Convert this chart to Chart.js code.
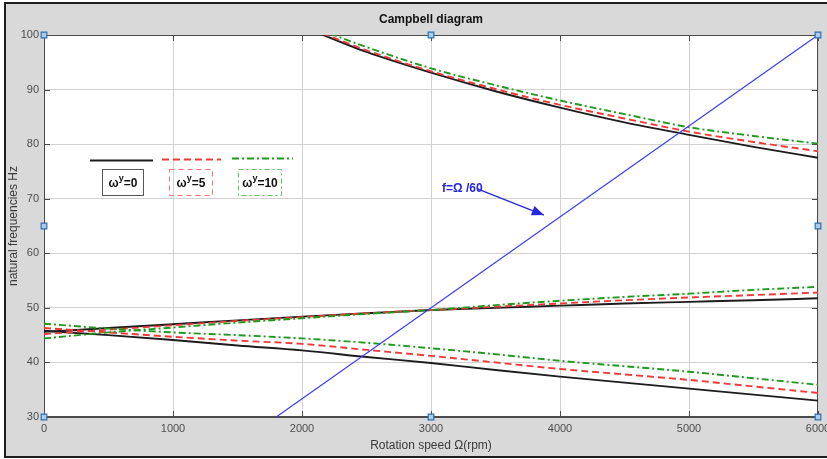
<!DOCTYPE html>
<html>
<head>
<meta charset="utf-8">
<script src="https://cdn.jsdelivr.net/npm/chart.js@4/dist/chart.umd.min.js"></script>
<style>
  html, body { margin: 0; padding: 0; background: #fff; overflow: hidden; }
  #wrap { width: 827px; height: 459px; }
</style>
</head>
<body>
<div id="wrap"><canvas id="c" width="827" height="459"></canvas></div>
<script>
// Rotation speeds (rpm) at which the modes were sampled
const rpm = [0, 500, 1000, 1500, 2000, 2500, 3000, 3500, 4000, 4500, 5000, 5500, 6000];
const rpmHigh = [2000, 2500, 3000, 3500, 4000, 4500, 5000, 5500, 6000];

// Natural frequencies (Hz), ω^y = 0
const w0Falling = [45.8, 45.0, 44.1, 43.1, 42.2, 41.0, 39.9, 38.6, 37.4, 36.3, 35.2, 34.1, 33.0];
const w0Rising  = [45.6, 46.3, 47.0, 47.7, 48.4, 49.0, 49.6, 50.0, 50.4, 50.8, 51.1, 51.4, 51.75];
const w0High    = [101.6, 96.9, 93.1, 89.7, 86.7, 84.0, 81.7, 79.5, 77.5];

// ω^y = 5
const w5Falling = [46.3, 45.5, 44.7, 44.0, 43.4, 42.3, 41.2, 40.0, 38.8, 37.8, 36.8, 35.6, 34.4];
const w5Rising  = [45.2, 46.0, 46.8, 47.6, 48.3, 49.0, 49.6, 50.2, 50.8, 51.4, 51.9, 52.35, 52.8];
const w5High    = [101.8, 97.2, 93.35, 90.1, 87.2, 84.7, 82.3, 80.4, 78.7];

// ω^y = 10
const w10Falling = [47.1, 46.2, 45.5, 45.0, 44.4, 43.6, 42.6, 41.5, 40.3, 39.3, 38.3, 37.1, 35.9];
const w10Rising  = [44.4, 45.5, 46.4, 47.3, 48.1, 48.9, 49.6, 50.5, 51.3, 52.0, 52.6, 53.3, 53.85];
const w10High    = [102.2, 97.8, 93.9, 90.8, 88.0, 85.5, 83.1, 81.5, 80.1];

// Excitation line f = Ω/60
const lineRpm = [0, 6000];
const lineHz = [0, 100];

// Edit handles on the axes box
const handleRpm = [0, 3000, 6000, 0, 6000, 0, 3000, 6000];
const handleHz  = [100, 100, 100, 65, 65, 30, 30, 30];

// Legend entries
const legendValues = [0, 5, 10];

const FONT = '"Liberation Sans", Arial, Helvetica, sans-serif';
const BLACK = '#1c1c1c';
const RED = '#f03a3a';
const GREEN = '#1f9a1f';
const BLUE = '#3c3cf0';
const DASH_RED = [7, 4];
const DASH_GREEN = [7, 3, 2, 3];

const pts = (xs, ys) => xs.map((x, i) => ({ x: x, y: ys[i] }));

function curve(xs, ys, color, dash, order) {
  return {
    data: pts(xs, ys),
    borderColor: color,
    borderWidth: 1.9,
    borderDash: dash,
    pointRadius: 0,
    fill: false,
    cubicInterpolationMode: 'monotone',
    order: order
  };
}

const datasets = [
  curve(rpm, w0Falling, BLACK, [], 4),
  curve(rpm, w0Rising, BLACK, [], 4),
  curve(rpmHigh, w0High, BLACK, [], 4),
  curve(rpm, w5Falling, RED, DASH_RED, 3),
  curve(rpm, w5Rising, RED, DASH_RED, 3),
  curve(rpmHigh, w5High, RED, DASH_RED, 3),
  curve(rpm, w10Falling, GREEN, DASH_GREEN, 2),
  curve(rpm, w10Rising, GREEN, DASH_GREEN, 2),
  curve(rpmHigh, w10High, GREEN, DASH_GREEN, 2),
  {
    data: pts(lineRpm, lineHz),
    borderColor: BLUE,
    borderWidth: 1.2,
    pointRadius: 0,
    fill: false,
    order: 1
  },
  {
    data: pts(handleRpm, handleHz),
    showLine: false,
    pointStyle: 'rect',
    pointRadius: 4,
    pointBackgroundColor: '#a9cdef',
    pointBorderColor: '#2f6fb0',
    pointBorderWidth: 1.2,
    clip: false,
    order: 0
  }
];

// Figure frame, grey surround and white axes background
const framePlugin = {
  id: 'frame',
  beforeDraw(chart) {
    const { ctx, chartArea: a } = chart;
    ctx.save();
    ctx.fillStyle = '#ffffff';
    ctx.fillRect(0, 0, chart.width, chart.height);
    ctx.fillStyle = '#1e1e1e';
    ctx.fillRect(4, 2, chart.width - 4, 456);
    ctx.fillStyle = '#d9d9d9';
    ctx.fillRect(6, 4, chart.width - 6, 452);
    ctx.fillStyle = '#ffffff';
    ctx.fillRect(a.left, a.top, a.right - a.left, a.bottom - a.top);
    ctx.restore();
  },
  beforeDatasetsDraw(chart) {
    const { ctx, chartArea: a, scales } = chart;
    ctx.save();
    ctx.strokeStyle = '#4a4a4a';
    ctx.lineWidth = 1;
    ctx.strokeRect(a.left + 0.5, a.top + 0.5, a.right - a.left - 1, a.bottom - a.top - 1);
    // inward tick marks on all four sides
    const len = 6;
    ctx.beginPath();
    scales.x.ticks.forEach(t => {
      const px = Math.round(scales.x.getPixelForValue(t.value)) + 0.5;
      ctx.moveTo(px, a.bottom); ctx.lineTo(px, a.bottom - len);
      ctx.moveTo(px, a.top); ctx.lineTo(px, a.top + len);
    });
    scales.y.ticks.forEach(t => {
      const py = Math.round(scales.y.getPixelForValue(t.value)) + 0.5;
      ctx.moveTo(a.left, py); ctx.lineTo(a.left + len, py);
      ctx.moveTo(a.right, py); ctx.lineTo(a.right - len, py);
    });
    ctx.stroke();
    ctx.restore();
  }
};

// "f=Ω /60" label with an arrow pointing at the excitation line
const annotationPlugin = {
  id: 'lineNote',
  afterDatasetsDraw(chart) {
    const { ctx, scales: { x, y } } = chart;
    const tx = x.getPixelForValue(3085), ty = y.getPixelForValue(71.9);
    const x1 = x.getPixelForValue(3360), y1 = y.getPixelForValue(71.8);
    const x2 = x.getPixelForValue(3875), y2 = y.getPixelForValue(67.0);
    ctx.save();
    ctx.fillStyle = '#2626e0';
    ctx.strokeStyle = '#2626e0';
    ctx.font = 'bold 12px ' + FONT;
    ctx.textBaseline = 'middle';
    ctx.textAlign = 'left';
    ctx.fillText('f=Ω /60', tx, ty);
    ctx.lineWidth = 1.4;
    ctx.beginPath();
    ctx.moveTo(x1, y1);
    ctx.lineTo(x2, y2);
    ctx.stroke();
    const ang = Math.atan2(y2 - y1, x2 - x1);
    const hl = 12, hw = 5;
    ctx.beginPath();
    ctx.moveTo(x2, y2);
    ctx.lineTo(x2 - hl * Math.cos(ang) + hw * Math.sin(ang), y2 - hl * Math.sin(ang) - hw * Math.cos(ang));
    ctx.lineTo(x2 - hl * Math.cos(ang) - hw * Math.sin(ang), y2 - hl * Math.sin(ang) + hw * Math.cos(ang));
    ctx.closePath();
    ctx.fill();
    ctx.restore();
  }
};

// Legend: line samples above boxed labels
const legendPlugin = {
  id: 'boxLegend',
  afterDraw(chart) {
    const ctx = chart.ctx;
    const entries = [
      { color: BLACK, dash: [], boxColor: '#555555', sx: [90, 153], sy: 160.5, box: [102, 169, 41, 26] },
      { color: RED, dash: DASH_RED, boxColor: '#f07070', sx: [162, 221], sy: 159.5, box: [169, 169, 43, 26] },
      { color: GREEN, dash: DASH_GREEN, boxColor: '#5cc05c', sx: [232, 293], sy: 158.5, box: [238, 169, 43, 26] }
    ];
    ctx.save();
    entries.forEach((e, i) => {
      ctx.strokeStyle = e.color;
      ctx.lineWidth = 1.8;
      ctx.setLineDash(e.dash);
      ctx.beginPath();
      ctx.moveTo(e.sx[0], e.sy);
      ctx.lineTo(e.sx[1], e.sy);
      ctx.stroke();

      ctx.strokeStyle = e.boxColor;
      ctx.lineWidth = 1;
      ctx.setLineDash(i === 0 ? [] : (i === 1 ? [5, 4] : [5, 3, 2, 3]));
      const [bx, by, bw, bh] = e.box;
      ctx.strokeRect(bx + 0.5, by + 0.5, bw, bh);
      ctx.setLineDash([]);

      const main = 'bold 12px ' + FONT, sup = 'bold 9px ' + FONT;
      const tail = '=' + legendValues[i];
      ctx.font = main; const wa = ctx.measureText('ω').width; const wc = ctx.measureText(tail).width;
      ctx.font = sup; const wb = ctx.measureText('y').width;
      let cx = bx + bw / 2 + 0.5 - (wa + wb + wc) / 2;
      const base = by + 18;
      ctx.fillStyle = '#111111';
      ctx.textAlign = 'left';
      ctx.textBaseline = 'alphabetic';
      ctx.font = main; ctx.fillText('ω', cx, base); cx += wa;
      ctx.font = sup; ctx.fillText('y', cx, base - 6); cx += wb;
      ctx.font = main; ctx.fillText(tail, cx, base);
    });
    ctx.restore();
  }
};

new Chart(document.getElementById('c'), {
  type: 'line',
  data: { datasets: datasets },
  plugins: [framePlugin, annotationPlugin, legendPlugin],
  options: {
    responsive: false,
    animation: false,
    devicePixelRatio: 1,
    layout: { padding: { left: 0, right: 9, top: 0, bottom: 0 } },
    plugins: {
      legend: { display: false },
      tooltip: { enabled: false },
      title: {
        display: true,
        fullSize: false,
        text: 'Campbell diagram',
        color: '#111111',
        font: { family: FONT, size: 12, weight: 'bold', lineHeight: 1.2 },
        padding: { top: 12, bottom: 8.6 }
      }
    },
    scales: {
      x: {
        type: 'linear',
        min: 0,
        max: 6000,
        ticks: {
          stepSize: 1000,
          maxRotation: 0,
          autoSkip: false,
          padding: 5,
          color: '#4d4d4d',
          font: { family: FONT, size: 11 },
          callback: v => String(v)
        },
        grid: { color: '#d2d2d2', drawTicks: false },
        border: { color: '#4a4a4a' },
        title: {
          display: true,
          text: 'Rotation speed Ω(rpm)',
          color: '#3a3a3a',
          font: { family: FONT, size: 12 },
          padding: { top: 0, bottom: 6 }
        },
        afterFit(s) { s.height = 42; s.paddingLeft = 0; s.paddingRight = 0; }
      },
      y: {
        min: 30,
        max: 100,
        ticks: {
          stepSize: 10,
          padding: 5,
          color: '#4d4d4d',
          font: { family: FONT, size: 11 },
          callback: v => String(v)
        },
        grid: { color: '#d2d2d2', drawTicks: false },
        border: { color: '#4a4a4a' },
        title: {
          display: true,
          text: 'natural frequencies Hz',
          color: '#3a3a3a',
          font: { family: FONT, size: 12 },
          padding: { top: 6, bottom: 0 }
        },
        afterFit(s) { s.width = 44; s.paddingTop = 0; s.paddingBottom = 0; }
      }
    }
  }
});
</script>
</body>
</html>
